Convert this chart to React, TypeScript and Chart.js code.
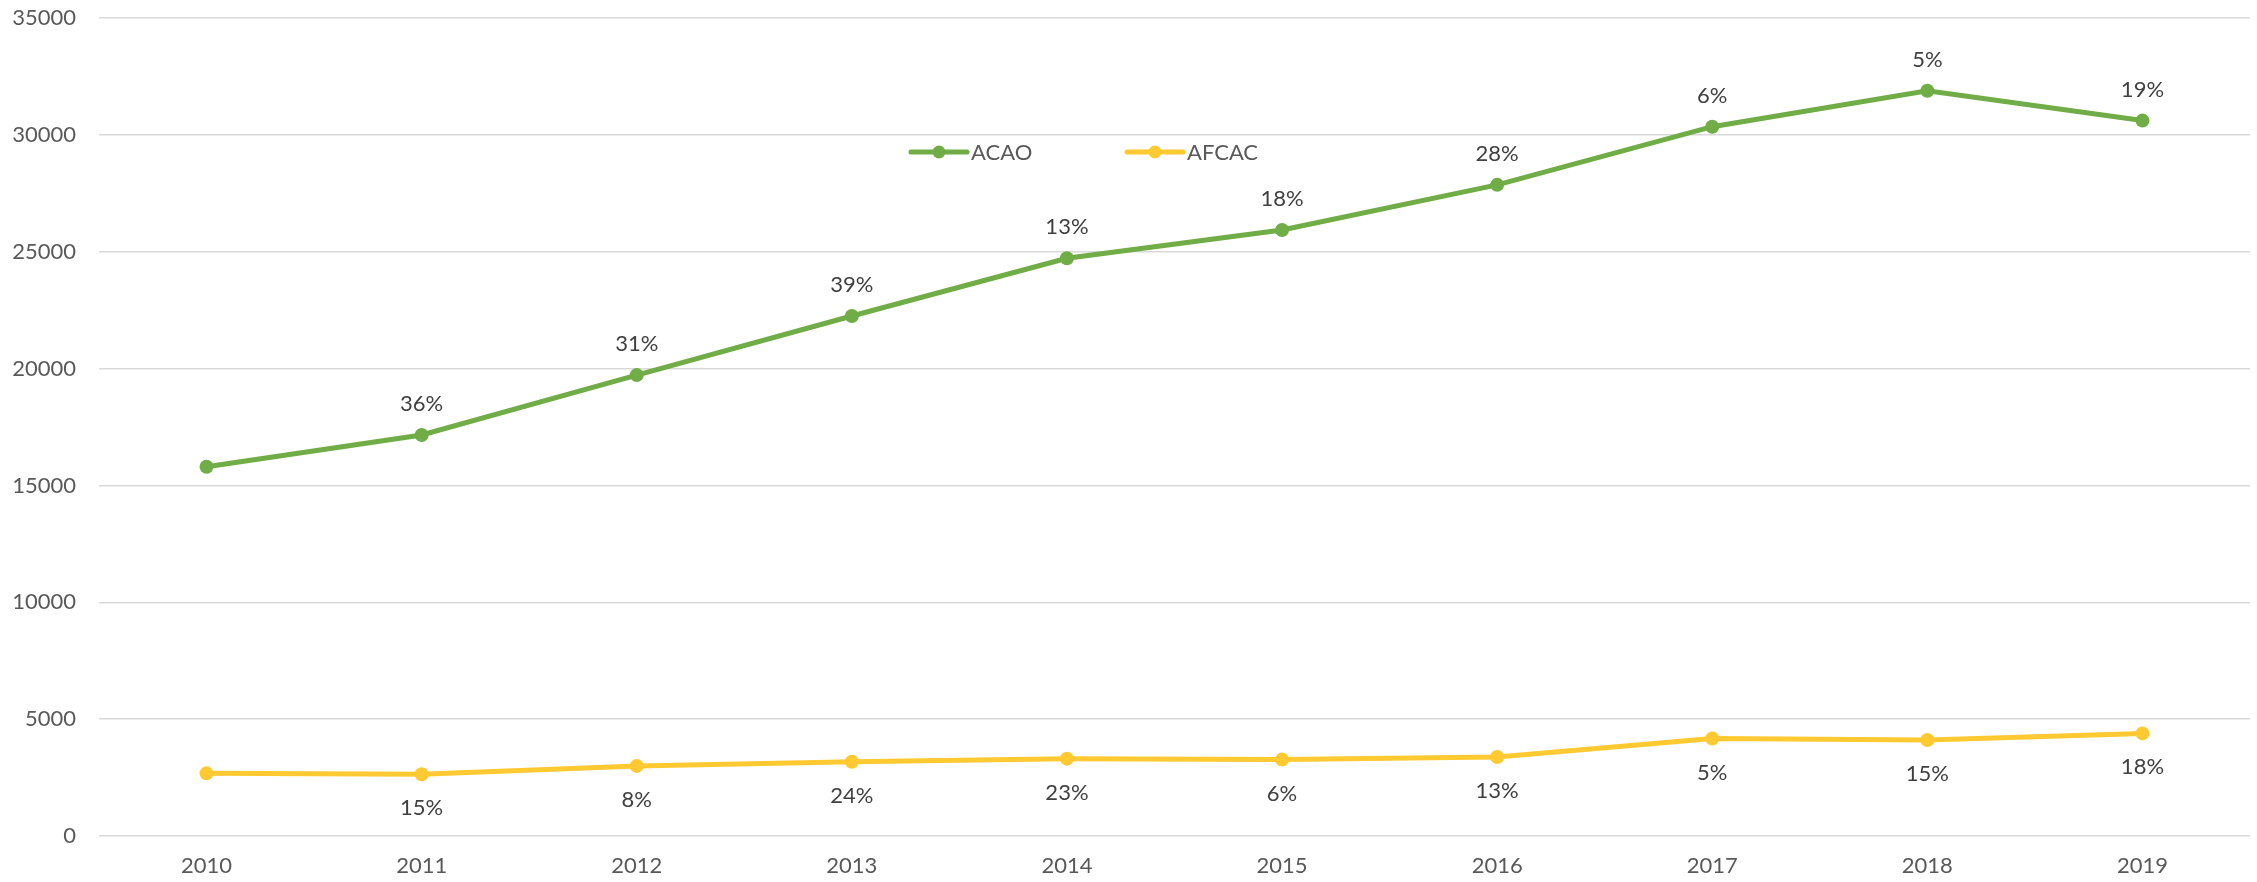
import React, { useEffect, useRef } from "react";
import { Chart, registerables } from "chart.js";

Chart.register(...registerables);

const years = ["2010", "2011", "2012", "2013", "2014", "2015", "2016", "2017", "2018", "2019"];
const acaoValues = [15800, 17160, 19720, 22250, 24720, 25930, 27860, 30350, 31890, 30610];
const afcacValues = [2680, 2640, 3000, 3180, 3310, 3270, 3380, 4170, 4110, 4390];
const acaoGrowth = ["", "36%", "31%", "39%", "13%", "18%", "28%", "6%", "5%", "19%"];
const afcacGrowth = ["", "15%", "8%", "24%", "23%", "6%", "13%", "5%", "15%", "18%"];
const seriesNames = ["ACAO", "AFCAC"];

const GREEN = "#70AD47";
const YELLOW = "#FFC931";
const FONT = "Lato, 'Open Sans', sans-serif";
const FS = 22;

const labelPlugin = {
  id: "pointLabels",
  afterDatasetsDraw(chart: any) {
    const ctx = chart.ctx;
    ctx.save();
    ctx.font = `${FS}px ${FONT}`;
    ctx.fillStyle = "#404040";
    ctx.textAlign = "center";
    ctx.textBaseline = "middle";
    const sets = [
      { idx: 0, labels: acaoGrowth, dy: -31 },
      { idx: 1, labels: afcacGrowth, dy: 34 },
    ];
    sets.forEach((s) => {
      const meta = chart.getDatasetMeta(s.idx);
      meta.data.forEach((pt: any, i: number) => {
        const t = s.labels[i];
        if (t) ctx.fillText(t, pt.x, pt.y + s.dy);
      });
    });
    ctx.restore();
  },
};

const legendPlugin = {
  id: "customLegend",
  afterDraw(chart: any) {
    const ctx = chart.ctx;
    const area = chart.chartArea;
    const y = area.top + 134;
    const items = [
      { name: seriesNames[0], color: GREEN, x: area.left + 812 },
      { name: seriesNames[1], color: YELLOW, x: area.left + 1028 },
    ];
    ctx.save();
    ctx.font = `${FS}px ${FONT}`;
    ctx.textBaseline = "middle";
    ctx.textAlign = "left";
    items.forEach((it) => {
      ctx.strokeStyle = it.color;
      ctx.lineWidth = 5;
      ctx.lineCap = "round";
      ctx.beginPath();
      ctx.moveTo(it.x, y);
      ctx.lineTo(it.x + 56, y);
      ctx.stroke();
      ctx.fillStyle = it.color;
      ctx.beginPath();
      ctx.arc(it.x + 28, y, 6.5, 0, Math.PI * 2);
      ctx.fill();
      ctx.fillStyle = "#595959";
      ctx.fillText(it.name, it.x + 60, y + 1);
    });
    ctx.restore();
  },
};

export default function App() {
  const ref = useRef<HTMLCanvasElement | null>(null);
  useEffect(() => {
    document.body.style.margin = "0";
    const canvas = ref.current;
    if (!canvas) return;
    const chart = new Chart(canvas, {
      type: "line",
      data: {
        labels: years,
        datasets: [
          {
            label: seriesNames[0],
            data: acaoValues,
            borderColor: GREEN,
            backgroundColor: GREEN,
            borderWidth: 5,
            pointRadius: 7,
            pointBorderWidth: 0,
            pointBackgroundColor: GREEN,
            tension: 0,
          },
          {
            label: seriesNames[1],
            data: afcacValues,
            borderColor: YELLOW,
            backgroundColor: YELLOW,
            borderWidth: 5,
            pointRadius: 7,
            pointBorderWidth: 0,
            pointBackgroundColor: YELLOW,
            tension: 0,
          },
        ],
      },
      options: {
        animation: false,
        responsive: false,
        maintainAspectRatio: false,
        devicePixelRatio: 1,
        layout: { padding: { top: 18, right: 3, left: 0, bottom: 0 } },
        plugins: {
          legend: { display: false },
          tooltip: { enabled: false },
        },
        scales: {
          x: {
            offset: true,
            grid: { display: false, drawTicks: false },
            border: { display: false },
            ticks: {
              font: { family: FONT, size: FS },
              color: "#595959",
              padding: 17,
              maxRotation: 0,
            },
            afterFit(scale: any) {
              scale.height = 46;
              scale.paddingLeft = 0;
              scale.paddingRight = 0;
            },
          },
          y: {
            min: 0,
            max: 35000,
            grid: { color: "#D9D9D9", lineWidth: 1.5, drawTicks: false },
            border: { display: false },
            ticks: {
              stepSize: 5000,
              font: { family: FONT, size: FS },
              color: "#595959",
              padding: 23,
              callback: (v: any) => String(v),
            },
            afterFit(scale: any) {
              scale.width = 99;
              scale.paddingTop = 0;
              scale.paddingBottom = 0;
            },
          },
        },
      },
      plugins: [labelPlugin, legendPlugin],
    });
    return () => chart.destroy();
  }, []);
  return (
    <div style={{ position: "absolute", left: 0, top: 0, width: 2257, height: 882, background: "#fff" }}>
      <canvas ref={ref} width={2257} height={882} style={{ width: 2257, height: 882, display: "block" }} />
    </div>
  );
}
